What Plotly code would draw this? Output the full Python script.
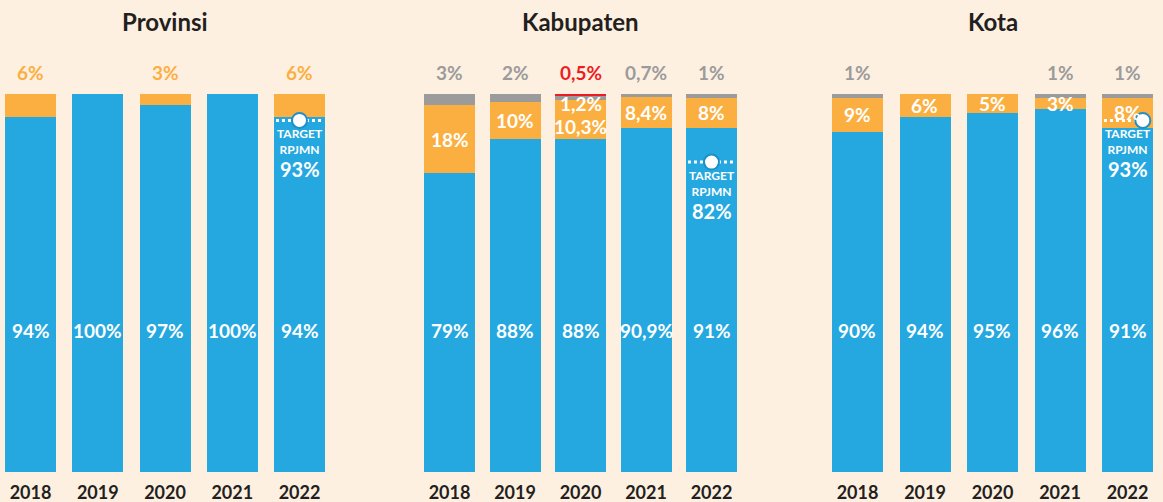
import plotly.graph_objects as go

years = ["2018", "2019", "2020", "2021", "2022"]
panels = ["Provinsi", "Kabupaten", "Kota"]

prov_blue = [94, 100, 97, 100, 94]
prov_orange = [6, 0, 3, 0, 6]
prov_gray = [0, 0, 0, 0, 0]
prov_red = [0, 0, 0, 0, 0]

kab_blue = [79, 88, 88, 90.9, 91]
kab_orange = [18, 10, 10.3, 8.4, 8]
kab_gray = [3, 2, 1.2, 0.7, 1]
kab_red = [0, 0, 0.5, 0, 0]

kota_blue = [90, 94, 95, 96, 91]
kota_orange = [9, 6, 5, 3, 8]
kota_gray = [1, 0, 0, 1, 1]
kota_red = [0, 0, 0, 0, 0]

targets = [93, 82, 93]  # Target RPJMN for 2022

BLUE = "#25A8E0"
ORANGE = "#FBAF41"
GRAY = "#9B9B9B"
RED = "#ED1C24"
BG = "#FEF0E1"
DARK = "#231F20"
FONT = "Lato"

W, H = 1163, 502
Y_TOP, Y_BOT = 94, 472

# pixel centers of first/last bar per panel (layout)
centers = [(30.5, 299.5), (449.5, 711.5), (857.5, 1127.5)]
BAR_PX = 51

data = [
    (prov_blue, prov_orange, prov_gray, prov_red),
    (kab_blue, kab_orange, kab_gray, kab_red),
    (kota_blue, kota_orange, kota_gray, kota_red),
]


def fmt(v):
    s = f"{v:g}".replace(".", ",")
    return s + "%"


fig = go.Figure()
layout_axes = {}
annotations = []
xs = list(range(len(years)))
TOP_LABEL_Y = (H - 73) / H
LBL = 19

for k, (name, (blue, orange, gray, red)) in enumerate(zip(panels, data)):
    c0, c4 = centers[k]
    step = (c4 - c0) / 4
    left = max(0, c0 - step / 2)
    right = min(W, c4 + step / 2)
    rng = [(left - c0) / step, (right - c0) / step]
    width = BAR_PX / step
    axname = "x" if k == 0 else f"x{k+1}"
    lname = "xaxis" if k == 0 else f"xaxis{k+1}"
    layout_axes[lname] = dict(
        domain=[left / W, right / W], range=rng, anchor="y",
        tickvals=xs, ticktext=years, showgrid=False, zeroline=False,
        showline=False, ticks="", automargin=False, fixedrange=True,
        tickfont=dict(family=FONT, size=18, color=DARK, weight="bold"),
        ticklabelstandoff=8,
    )
    for vals, col in [(blue, BLUE), (orange, ORANGE), (gray, GRAY), (red, RED)]:
        fig.add_trace(go.Bar(
            x=xs, y=vals, width=[width] * len(xs), marker=dict(color=col, line=dict(width=0)),
            xaxis=axname, yaxis="y", showlegend=False, hoverinfo="skip",
        ))

    # Title
    annotations.append(dict(
        x=(c0 + c4) / 2 / W, y=(H - 22) / H, xref="paper", yref="paper",
        xanchor="center", yanchor="middle",
        text=name, showarrow=False,
        font=dict(family=FONT, size=24, color=DARK, weight="bold"),
    ))

    def top_label(i, txt, col):
        annotations.append(dict(
            x=i, y=TOP_LABEL_Y, xref=axname, yref="paper", xanchor="center", yanchor="middle",
            text=txt, showarrow=False,
            font=dict(family=FONT, size=LBL, color=col, weight="bold"),
        ))

    for i in xs:
        # blue label
        annotations.append(dict(
            x=i, y=37.5, xref=axname, yref="y", text=fmt(blue[i]), showarrow=False,
            font=dict(family=FONT, size=LBL, color="white", weight="bold"),
        ))
        if k == 0:
            if orange[i] > 0:
                top_label(i, fmt(orange[i]), ORANGE)
        else:
            ocen = blue[i] + orange[i] / 2
            shift = 0
            if red[i] > 0:
                shift = -7
                gcen = blue[i] + orange[i] + gray[i] / 2
                annotations.append(dict(
                    x=i, y=gcen, xref=axname, yref="y", text=fmt(gray[i]), showarrow=False,
                    yshift=-5, borderpad=0,
                    font=dict(family=FONT, size=LBL, color="white", weight="bold"),
                ))
                top_label(i, fmt(red[i]), RED)
            elif gray[i] > 0:
                top_label(i, fmt(gray[i]), GRAY)
            if orange[i] > 0:
                annotations.append(dict(
                    x=i, y=ocen, xref=axname, yref="y", text=fmt(orange[i]), showarrow=False,
                    yshift=shift, borderpad=0,
                    font=dict(family=FONT, size=LBL, color="white", weight="bold"),
                ))

    # target marker on last bar
    t = targets[k]
    last = xs[-1]
    circ_x = last if k < 2 else last + width / 2 * 0.6
    fig.add_trace(go.Scatter(
        x=[last - width / 2 + 0.03, last + width / 2 - 0.03] if k < 2 else [last - width / 2 + 0.03, circ_x],
        y=[t, t], mode="lines", line=dict(color="white", width=3, dash="dot"),
        xaxis=axname, yaxis="y", showlegend=False, hoverinfo="skip",
    ))
    fig.add_trace(go.Scatter(
        x=[circ_x], y=[t], mode="markers",
        marker=dict(size=15, color="white", line=dict(color="#1E8FC8", width=2)),
        xaxis=axname, yaxis="y", showlegend=False, hoverinfo="skip",
    ))
    annotations.append(dict(
        x=last, y=t, xref=axname, yref="y", showarrow=False,
        text="TARGET<br>RPJMN", yanchor="top", yshift=-5, borderpad=0,
        font=dict(family=FONT, size=12, color="white", weight="bold"),
    ))
    annotations.append(dict(
        x=last, y=t, xref=axname, yref="y", showarrow=False,
        text=fmt(t), yanchor="top", yshift=-36, borderpad=0,
        font=dict(family=FONT, size=20, color="white", weight="bold"),
    ))

fig.update_layout(
    width=W, height=H,
    margin=dict(l=0, r=0, t=0, b=0),
    paper_bgcolor=BG, plot_bgcolor=BG,
    barmode="stack", bargap=0,
    yaxis=dict(domain=[(H - Y_BOT) / H, (H - Y_TOP) / H], range=[0, 100], fixedrange=True,
               showgrid=False, zeroline=False, showticklabels=False, showline=False),
    annotations=annotations,
    **layout_axes,
)

fig.write_html("out.html", config={"displayModeBar": False},
               post_script="document.body.style.margin='0';document.body.style.overflow='hidden';")
